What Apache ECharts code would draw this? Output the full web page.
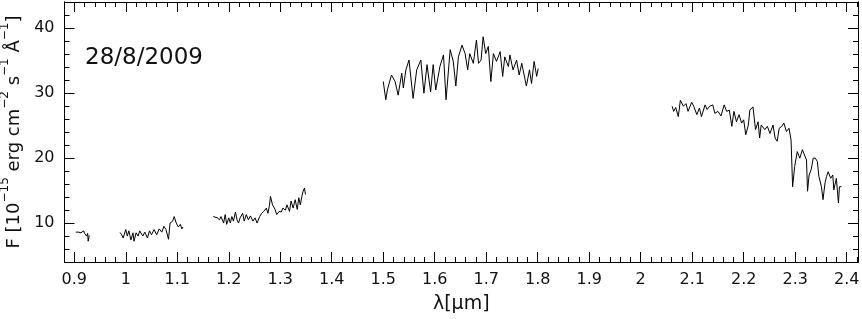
<!DOCTYPE html>
<html>
<head>
<meta charset="utf-8">
<script src="https://cdn.jsdelivr.net/npm/echarts@6/dist/echarts.min.js"></script>
<style>html,body{margin:0;padding:0;background:#fff}#c{width:862px;height:319px}</style>
</head>
<body>
<div id="c"></div>
<script>
// ---- data (λ in µm, F in 1e-15 erg cm^-2 s^-1 Å^-1) ----
const seg1 = [[0.903,8.6],[0.906,8.5],[0.908,8.6],[0.911,8.4],[0.913,8.5],[0.915,8.3],[0.918,8.8],[0.920,8.4],[0.922,8.7],[0.924,8.0],[0.926,8.4],[0.927,7.2],[0.929,8.1]];
const seg2 = [[0.989,8.55],[0.992,8.2],[0.995,7.7],[1.000,9.0],[1.003,8.0],[1.006,8.8],[1.010,7.4],[1.014,8.5],[1.016,7.2],[1.020,8.5],[1.024,8.0],[1.027,8.8],[1.033,8.0],[1.037,8.6],[1.042,7.7],[1.046,8.8],[1.050,8.2],[1.055,9.0],[1.060,8.2],[1.065,9.1],[1.070,8.6],[1.074,9.5],[1.078,9.0],[1.083,7.5],[1.086,10.0],[1.091,10.3],[1.094,11.0],[1.098,10.0],[1.102,9.4],[1.106,9.8],[1.109,9.1],[1.111,9.4]];
const seg3 = [[1.170,11.0],[1.173,11.3],[1.178,10.8],[1.182,10.5],[1.185,11.0],[1.190,10.0],[1.193,11.3],[1.196,9.8],[1.200,10.8],[1.203,10.0],[1.206,11.0],[1.209,10.3],[1.213,11.7],[1.216,10.5],[1.219,10.0],[1.222,10.8],[1.227,11.5],[1.230,10.3],[1.234,11.3],[1.238,10.5],[1.242,11.1],[1.247,10.3],[1.251,10.8],[1.255,10.0],[1.260,11.0],[1.264,11.5],[1.268,11.8],[1.273,12.3],[1.276,11.5],[1.279,12.7],[1.281,14.1],[1.285,12.8],[1.290,12.1],[1.293,11.3],[1.298,11.8],[1.302,11.7],[1.305,12.3],[1.310,12.0],[1.313,12.8],[1.318,11.8],[1.321,13.4],[1.325,12.3],[1.329,13.6],[1.333,12.1],[1.336,13.9],[1.339,12.8],[1.342,14.1],[1.344,14.8],[1.347,15.4],[1.349,14.4]];
const seg4 = [[1.500,31.8],[1.505,29.0],[1.508,30.5],[1.516,32.8],[1.523,31.8],[1.529,29.7],[1.536,33.1],[1.539,30.8],[1.544,33.6],[1.550,35.1],[1.558,29.2],[1.565,33.6],[1.573,35.1],[1.579,30.0],[1.585,34.4],[1.592,30.2],[1.597,34.4],[1.602,30.5],[1.610,34.1],[1.617,35.9],[1.622,29.0],[1.630,36.7],[1.636,34.9],[1.641,31.1],[1.646,35.6],[1.653,37.4],[1.659,36.1],[1.664,33.6],[1.668,36.1],[1.675,34.6],[1.681,38.2],[1.685,34.6],[1.690,35.1],[1.694,38.7],[1.699,36.1],[1.704,37.2],[1.709,31.8],[1.714,36.1],[1.720,34.9],[1.727,36.4],[1.732,32.6],[1.736,35.6],[1.743,34.1],[1.746,35.9],[1.752,33.6],[1.759,35.1],[1.764,32.8],[1.769,34.6],[1.778,31.1],[1.784,33.6],[1.788,31.5],[1.793,34.9],[1.798,32.6],[1.801,33.8]];
const seg5 = [[2.061,28.0],[2.064,27.2],[2.068,27.8],[2.073,26.4],[2.077,28.9],[2.083,28.0],[2.088,28.4],[2.092,27.2],[2.099,28.6],[2.103,28.0],[2.109,26.7],[2.114,27.7],[2.118,26.4],[2.125,28.2],[2.129,27.5],[2.134,28.0],[2.140,28.2],[2.144,26.9],[2.150,27.2],[2.156,26.5],[2.162,28.2],[2.167,27.2],[2.172,27.4],[2.177,24.9],[2.181,27.2],[2.186,25.6],[2.191,26.7],[2.196,25.4],[2.200,25.9],[2.204,23.6],[2.209,25.1],[2.212,27.4],[2.218,27.9],[2.223,24.4],[2.228,25.6],[2.231,23.1],[2.234,25.1],[2.241,24.4],[2.246,24.9],[2.251,23.8],[2.257,25.1],[2.261,23.1],[2.265,22.6],[2.269,24.6],[2.274,24.9],[2.278,25.4],[2.283,24.1],[2.288,24.6],[2.292,22.8],[2.295,15.6],[2.299,18.7],[2.304,21.0],[2.309,20.0],[2.314,21.3],[2.317,21.5],[2.322,19.7],[2.324,14.9],[2.327,17.4],[2.331,18.2],[2.335,20.0],[2.339,20.0],[2.343,19.5],[2.346,17.2],[2.351,15.6],[2.354,13.6],[2.358,16.2],[2.361,17.2],[2.364,17.9],[2.369,16.9],[2.373,17.4],[2.375,15.1],[2.380,16.9],[2.384,13.1],[2.386,15.6],[2.390,15.6]];
const xTickLabels = [0.9,1,1.1,1.2,1.3,1.4,1.5,1.6,1.7,1.8,1.9,2,2.1,2.2,2.3,2.4];
const yTickLabels = [10,20,30,40];
const dateLabel = '28/8/2009';
const xName = 'λ[μm]';

// ---- layout ----
const X_MIN = 0.881, X_MAX = 2.422, Y_MIN = 4, Y_MAX = 44.05;
const xMinor = []; for (let i = 44; i <= 121; i++) xMinor.push(+(i * 0.02).toFixed(2));
const yMinor = []; for (let v = 4; v <= 44; v += 2) yMinor.push(v);
const FONT = 'DejaVu Sans';
const TXT = '#111';

function xAx(pos, ticks, len, labels) {
  return {
    type: 'value', position: pos, min: X_MIN, max: X_MAX,
    axisLine: { show: true, onZero: false, lineStyle: { color: '#000', width: 1 } },
    axisTick: { show: true, inside: true, length: len, customValues: ticks, lineStyle: { color: '#000', width: 1 } },
    axisLabel: labels ? { show: true, customValues: ticks, margin: 10, fontFamily: FONT, fontSize: 16, color: TXT, formatter: v => String(+v.toFixed(1)) } : { show: false },
    splitLine: { show: false },
    name: labels ? xName : '', nameLocation: 'middle', nameGap: 33,
    nameTextStyle: { fontFamily: FONT, fontSize: 19, color: TXT }
  };
}
function yAx(pos, ticks, len, labels) {
  return {
    type: 'value', position: pos, min: Y_MIN, max: Y_MAX,
    axisLine: { show: true, onZero: false, lineStyle: { color: '#000', width: 1 } },
    axisTick: { show: true, inside: true, length: len, customValues: ticks, lineStyle: { color: '#000', width: 1 } },
    axisLabel: labels ? { show: true, customValues: ticks, margin: 10, fontFamily: FONT, fontSize: 16, color: TXT } : { show: false },
    splitLine: { show: false },
    name: labels ? '{n|F [10}{s|−15}{n| erg cm}{s|−2}{n| s}{s|−1}{n| Å}{s|−1}{n|]}' : '',
    nameLocation: 'middle', nameGap: 39,
    nameTextStyle: labels ? {
      rich: {
        n: { fontFamily: FONT, fontSize: 18, color: TXT, lineHeight: 24, verticalAlign: 'bottom' },
        s: { fontFamily: FONT, fontSize: 12, color: TXT, lineHeight: 24, verticalAlign: 'top' }
      }
    } : {}
  };
}

const chart = echarts.init(document.getElementById('c'), null, { renderer: 'canvas' });
const mk = d => ({ type: 'line', data: d, xAxisIndex: 0, yAxisIndex: 0, showSymbol: false, symbol: 'none',
  lineStyle: { color: '#000', width: 1 }, itemStyle: { color: '#000' }, animation: false, silent: true });
chart.setOption({
  animation: false,
  backgroundColor: '#fff',
  grid: { left: 64.5, right: 4, top: 2, bottom: 57, containLabel: false, outerBoundsMode: 'none' },
  xAxis: [xAx('bottom', xTickLabels, 10, true), xAx('bottom', xMinor, 5, false), xAx('top', xTickLabels, 10, false), xAx('top', xMinor, 5, false)],
  yAxis: [yAx('left', yTickLabels, 10, true), yAx('left', yMinor, 5, false), yAx('right', yTickLabels, 10, false), yAx('right', yMinor, 5, false)],
  graphic: [{ type: 'text', left: 85, top: 47, style: { text: dateLabel, fontFamily: FONT, fontSize: 23, fill: TXT } }],
  series: [mk(seg1), mk(seg2), mk(seg3), mk(seg4), mk(seg5)]
});
</script>
</body>
</html>
